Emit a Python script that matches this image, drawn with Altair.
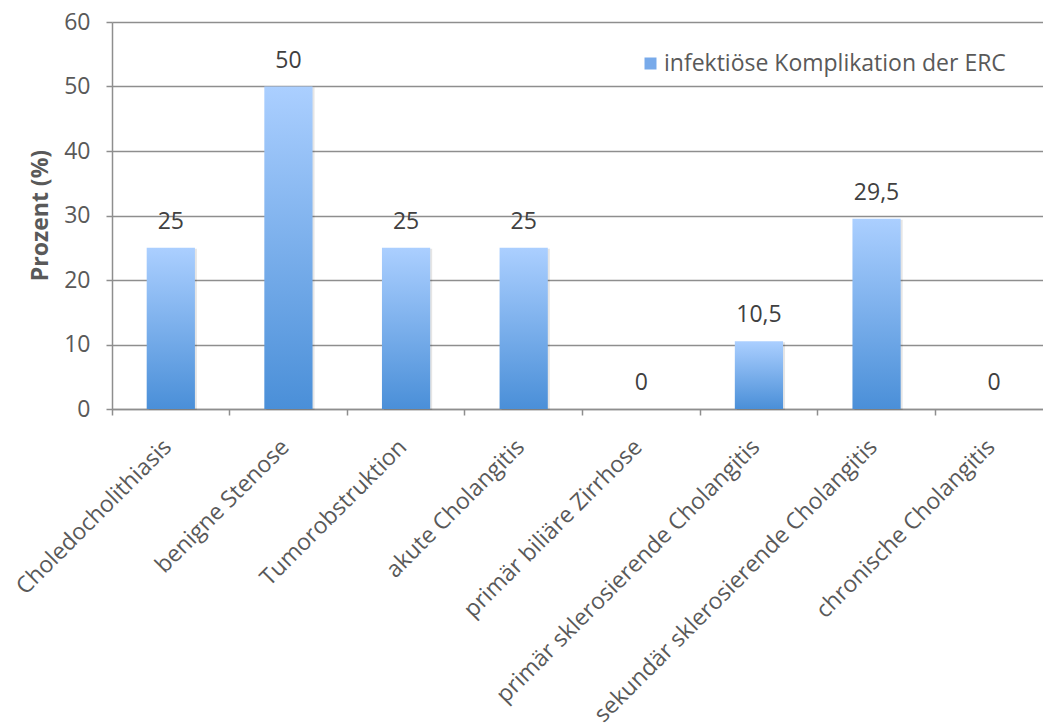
import altair as alt
import pandas as pd

# Kategorien und Anteile infektiöser Komplikationen (%)
categories = [
    "Choledocholithiasis",
    "benigne Stenose",
    "Tumorobstruktion",
    "akute Cholangitis",
    "primär biliäre Zirrhose",
    "primär sklerosierende Cholangitis",
    "sekundär sklerosierende Cholangitis",
    "chronische Cholangitis",
]
values = [25, 50, 25, 25, 0, 10.5, 29.5, 0]
series_name = "infektiöse Komplikation der ERC"
y_ticks = [0, 10, 20, 30, 40, 50, 60]

df = pd.DataFrame({
    "Kategorie": categories,
    "Prozent": values,
    "Label": [f"{v:g}".replace(".", ",") for v in values],
    "Serie": series_name,
})

FONT = "Open Sans"
TEXT_GREY = "#595959"
GRID_GREY = "#8e8e8e"
FS = 23

x_enc = alt.X(
    "Kategorie:N",
    sort=categories,
    scale=alt.Scale(range=[0, 941], paddingInner=0, paddingOuter=0),
    axis=alt.Axis(
        title=None,
        bandPosition=0,
        grid=False,
        domain=True,
        domainColor=GRID_GREY,
        domainWidth=1.5,
        ticks=True,
        tickSize=6,
        tickColor=GRID_GREY,
        tickWidth=1.5,
        labelAngle=-45,
        labelAlign="right",
        labelBaseline="alphabetic",
        labelOffset=2,
        labelPadding=33,
        labelFont=FONT,
        labelFontSize=FS,
        labelColor=TEXT_GREY,
        labelOverlap=False,
        labelLimit=0,
    ),
)

y_enc = alt.Y(
    "Prozent:Q",
    scale=alt.Scale(domain=[0, 60], nice=False),
    axis=alt.Axis(
        title="Prozent (%)",
        values=y_ticks,
        grid=True,
        gridColor=GRID_GREY,
        gridWidth=1.5,
        domain=True,
        domainColor=GRID_GREY,
        domainWidth=1.5,
        ticks=True,
        tickSize=6,
        tickColor=GRID_GREY,
        tickWidth=1.5,
        labelPadding=16,
        labelFont=FONT,
        labelFontSize=FS,
        labelColor=TEXT_GREY,
        titleFont=FONT,
        titleFontSize=23,
        titleFontWeight="bold",
        titleColor=TEXT_GREY,
        titleAngle=-90,
        titleAlign="center",
        titleBaseline="middle",
        titleX=-72,
        titleY=193,
    ),
)

bar_gradient = alt.Gradient(
    gradient="linear",
    stops=[
        alt.GradientStop(color="#abcfff", offset=0),
        alt.GradientStop(color="#4a8fd8", offset=1),
    ],
    x1=1, x2=1, y1=0, y2=1,
)

base = alt.Chart(df)

shadow = base.mark_bar(
    color="#000000", opacity=0.10, xOffset=2, yOffset=1,
    width=alt.RelativeBandSize(0.41),
).encode(x=x_enc, y=y_enc)

bars = base.mark_bar(
    color=bar_gradient, width=alt.RelativeBandSize(0.41)
).encode(x=x_enc, y=y_enc)

labels = base.mark_text(
    font=FONT, fontSize=FS, color="#404040", baseline="alphabetic", dy=-19
).encode(
    x=x_enc,
    y=y_enc,
    text="Label:N",
)

legend_layer = base.mark_point(
    shape="square", filled=True, opacity=0
).encode(
    x=x_enc,
    y=y_enc,
    color=alt.Color(
        "Serie:N",
        scale=alt.Scale(range=["#78aaea"]),
        legend=alt.Legend(
            title=None,
            orient="none",
            legendX=527,
            legendY=30,
            symbolType="square",
            symbolSize=144,
            symbolOpacity=1,
            symbolStrokeWidth=0,
            labelFont=FONT,
            labelFontSize=FS,
            labelColor=TEXT_GREY,
            labelOffset=2,
            labelLimit=0,
            padding=0,
        ),
    ),
)

chart = (
    alt.layer(shadow, bars, labels, legend_layer)
    .properties(
        width=931,
        height=387,
        autosize=alt.AutoSizeParams(type="none"),
        padding={"left": 112, "top": 22, "right": 0, "bottom": 318},
        background="white",
    )
    .configure_view(stroke=None)
)

chart.save("out.html", embed_options={"renderer": "svg", "actions": False})
